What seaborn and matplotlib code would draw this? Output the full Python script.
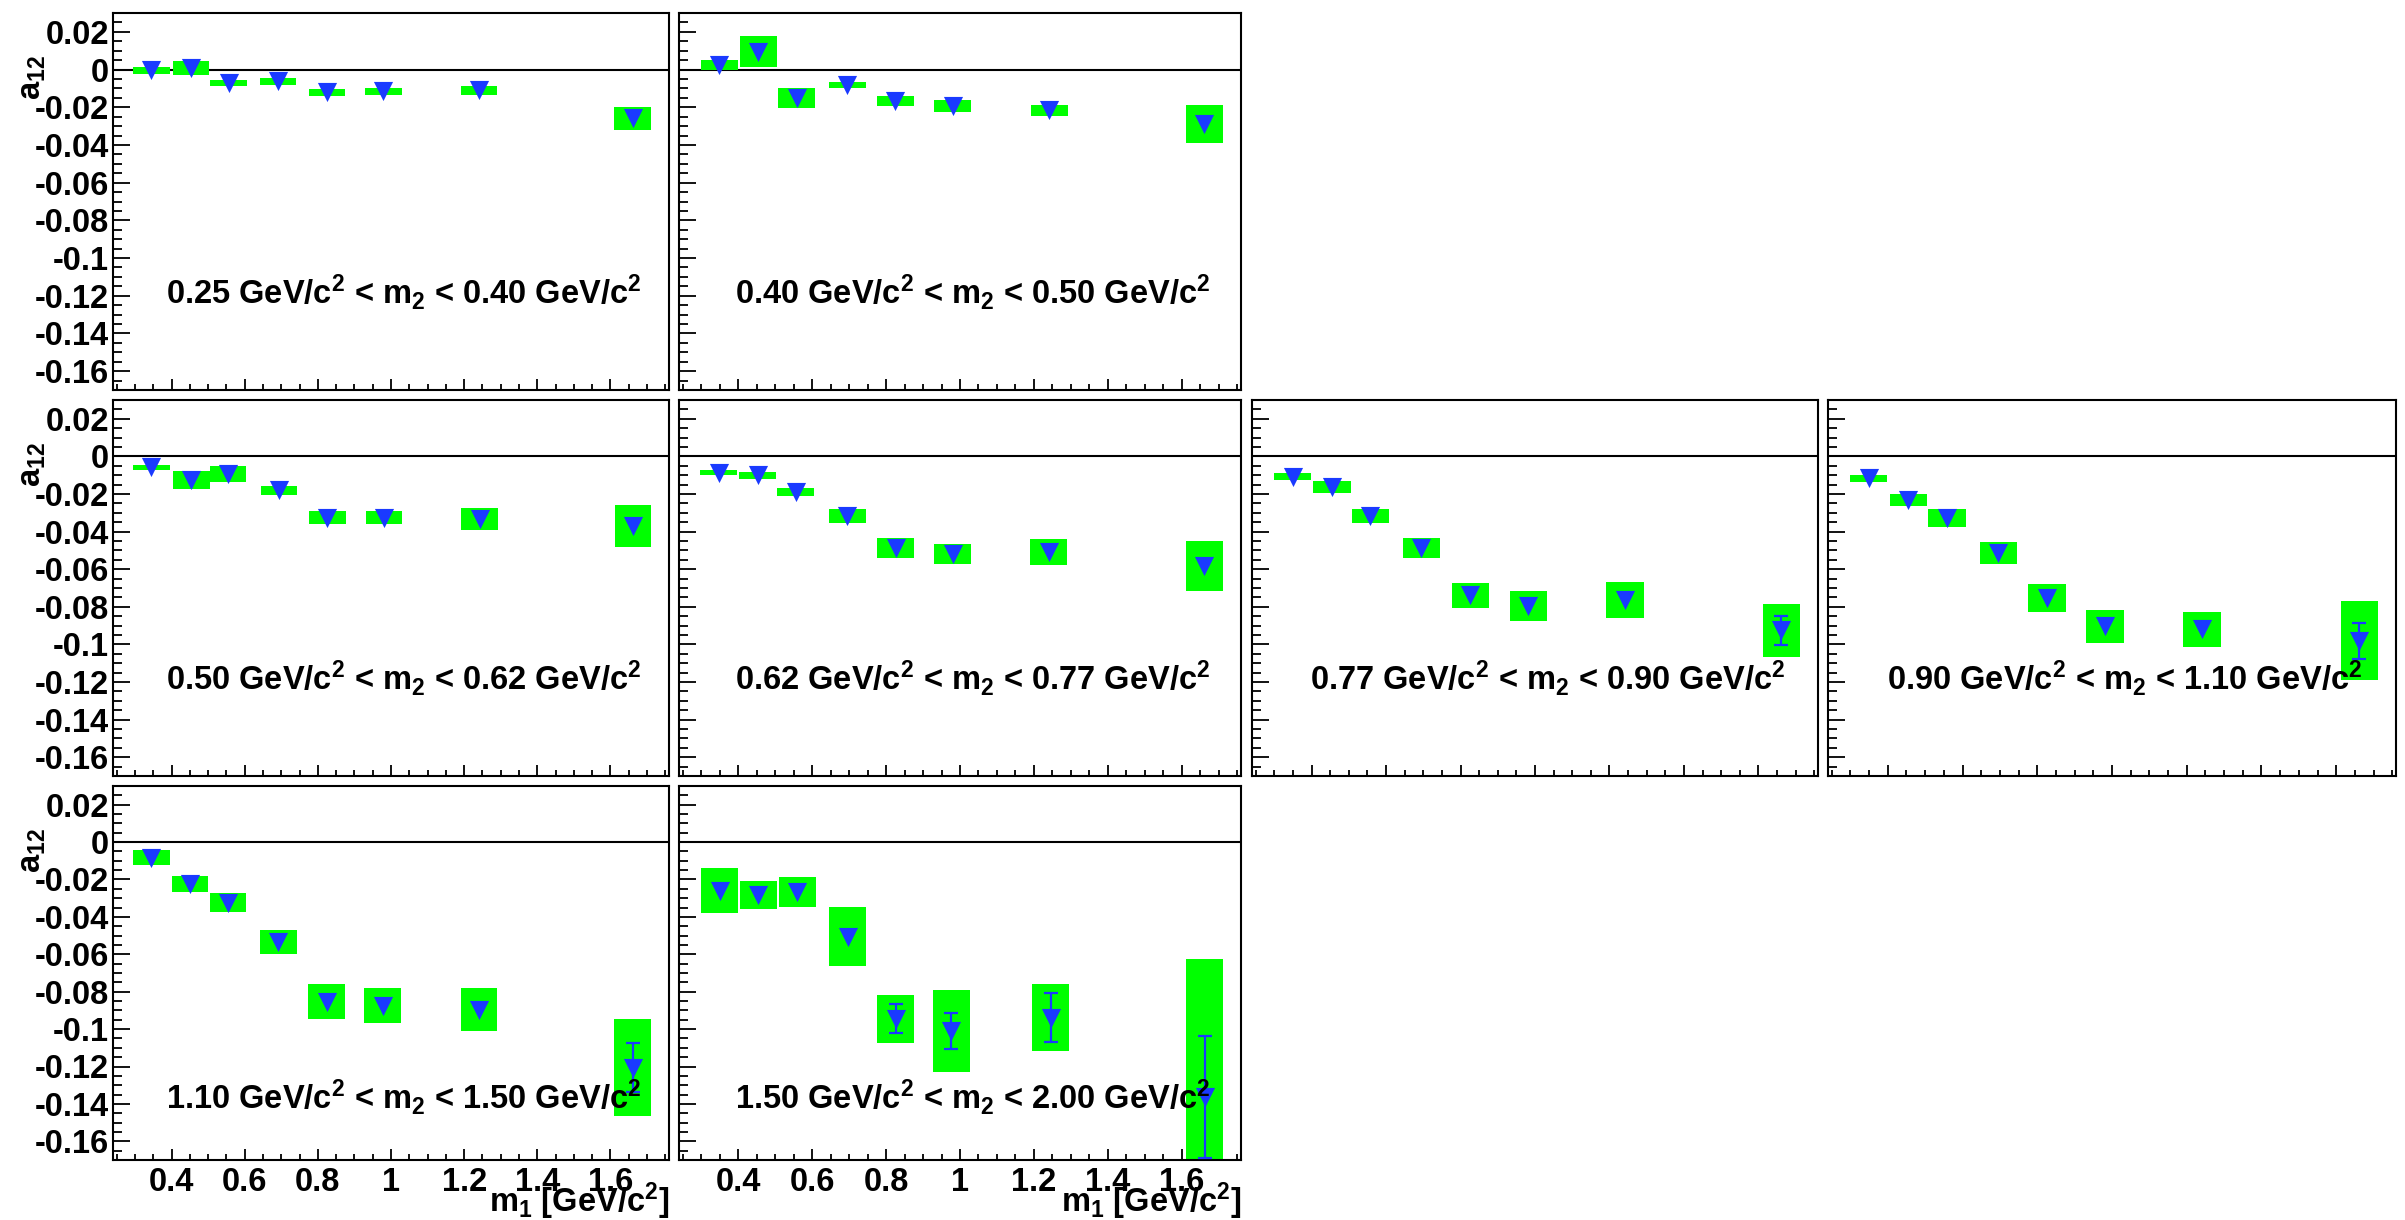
import matplotlib
matplotlib.use("Agg")
import matplotlib.pyplot as plt
import seaborn as sns
from matplotlib.ticker import FixedLocator, FixedFormatter, MultipleLocator, NullFormatter

# ---------------- data ----------------
panel_labels = [
    "0.25 GeV/c$^{2}$ < m$_{2}$ < 0.40 GeV/c$^{2}$",
    "0.40 GeV/c$^{2}$ < m$_{2}$ < 0.50 GeV/c$^{2}$",
    "0.50 GeV/c$^{2}$ < m$_{2}$ < 0.62 GeV/c$^{2}$",
    "0.62 GeV/c$^{2}$ < m$_{2}$ < 0.77 GeV/c$^{2}$",
    "0.77 GeV/c$^{2}$ < m$_{2}$ < 0.90 GeV/c$^{2}$",
    "0.90 GeV/c$^{2}$ < m$_{2}$ < 1.10 GeV/c$^{2}$",
    "1.10 GeV/c$^{2}$ < m$_{2}$ < 1.50 GeV/c$^{2}$",
    "1.50 GeV/c$^{2}$ < m$_{2}$ < 2.00 GeV/c$^{2}$",
]

m1_p1 = [0.345, 0.453, 0.556, 0.691, 0.825, 0.979, 1.241, 1.661]
a12_p1 = [-0.0004, 0.0008, -0.0073, -0.0063, -0.0121, -0.0116, -0.0111, -0.0259]
sys_p1 = [0.0019, 0.0038, 0.0015, 0.0019, 0.0019, 0.0019, 0.0025, 0.0060]
stat_p1 = [0.0010, 0.0015, 0.0010, 0.0010, 0.0010, 0.0010, 0.0015, 0.0030]

m1_p2 = [0.349, 0.455, 0.558, 0.695, 0.825, 0.980, 1.241, 1.660]
a12_p2 = [0.0025, 0.0095, -0.0151, -0.0082, -0.0167, -0.0193, -0.0217, -0.0288]
sys_p2 = [0.0025, 0.0081, 0.0051, 0.0015, 0.0025, 0.0031, 0.0027, 0.0101]
stat_p2 = [0.0012, 0.0018, 0.0015, 0.0012, 0.0012, 0.0013, 0.0015, 0.0035]

m1_p3 = [0.345, 0.454, 0.554, 0.694, 0.826, 0.981, 1.242, 1.662]
a12_p3 = [-0.0058, -0.0128, -0.0094, -0.0180, -0.0326, -0.0326, -0.0334, -0.0369]
sys_p3 = [0.0013, 0.0048, 0.0044, 0.0023, 0.0036, 0.0036, 0.0060, 0.0111]
stat_p3 = [0.0012, 0.0015, 0.0015, 0.0013, 0.0015, 0.0015, 0.0020, 0.0040]

m1_p4 = [0.347, 0.453, 0.556, 0.695, 0.826, 0.980, 1.240, 1.661]
a12_p4 = [-0.0086, -0.0101, -0.0190, -0.0316, -0.0489, -0.0520, -0.0510, -0.0584]
sys_p4 = [0.0012, 0.0017, 0.0023, 0.0038, 0.0054, 0.0054, 0.0070, 0.0132]
stat_p4 = [0.0012, 0.0014, 0.0015, 0.0016, 0.0018, 0.0020, 0.0025, 0.0045]

m1_p5 = [0.349, 0.455, 0.558, 0.695, 0.826, 0.982, 1.242, 1.661]
a12_p5 = [-0.0107, -0.0165, -0.0316, -0.0489, -0.0738, -0.0796, -0.0762, -0.0925]
sys_p5 = [0.0017, 0.0032, 0.0038, 0.0054, 0.0067, 0.0078, 0.0096, 0.0141]
stat_p5 = [0.0014, 0.0016, 0.0018, 0.0020, 0.0024, 0.0028, 0.0035, 0.0077]

m1_p6 = [0.349, 0.455, 0.558, 0.696, 0.826, 0.981, 1.241, 1.662]
a12_p6 = [-0.0116, -0.0231, -0.0328, -0.0512, -0.0755, -0.0904, -0.0920, -0.0980]
sys_p6 = [0.0018, 0.0033, 0.0047, 0.0058, 0.0075, 0.0088, 0.0093, 0.0211]
stat_p6 = [0.0015, 0.0017, 0.0019, 0.0022, 0.0026, 0.0030, 0.0038, 0.0096]

m1_p7 = [0.345, 0.450, 0.554, 0.692, 0.824, 0.977, 1.241, 1.661]
a12_p7 = [-0.0083, -0.0223, -0.0323, -0.0534, -0.0854, -0.0875, -0.0896, -0.1207]
sys_p7 = [0.0042, 0.0042, 0.0051, 0.0063, 0.0094, 0.0094, 0.0114, 0.0259]
stat_p7 = [0.0016, 0.0018, 0.0020, 0.0024, 0.0030, 0.0034, 0.0042, 0.0130]

m1_p8 = [0.350, 0.455, 0.560, 0.697, 0.826, 0.977, 1.245, 1.662]
a12_p8 = [-0.0260, -0.0283, -0.0267, -0.0505, -0.0945, -0.1011, -0.0938, -0.1362]
sys_p8 = [0.0119, 0.0074, 0.0080, 0.0159, 0.0127, 0.0221, 0.0181, 0.0738]
stat_p8 = [0.0030, 0.0032, 0.0035, 0.0042, 0.0078, 0.0096, 0.0130, 0.0325]

x_tick_values = [0.4, 0.6, 0.8, 1.0, 1.2, 1.4, 1.6]
x_tick_labels = ["0.4", "0.6", "0.8", "1", "1.2", "1.4", "1.6"]
y_tick_values = [0.02, 0.0, -0.02, -0.04, -0.06, -0.08, -0.10, -0.12, -0.14, -0.16]
y_tick_labels = ["0.02", "0", "-0.02", "-0.04", "-0.06", "-0.08", "-0.1", "-0.12", "-0.14", "-0.16"]

x_title = "m$_{1}$ [GeV/c$^{2}$]"
y_title = "a$_{12}$"

# ---------------- style ----------------
sns.set_theme(style="ticks")
plt.rcParams.update({
    "font.family": ["Liberation Sans", "DejaVu Sans"],
    "font.weight": "bold",
    "mathtext.fontset": "custom",
    "mathtext.rm": "Liberation Sans:bold",
    "mathtext.it": "Liberation Sans:bold",
    "mathtext.bf": "Liberation Sans:bold",
    "mathtext.sf": "Liberation Sans:bold",
    "mathtext.default": "rm",
    "axes.unicode_minus": False,
})

GREEN = "#00ff00"
BLUE = "#1a3aff"
FS = 23.5
W, H = 2405, 1220

fig = plt.figure(figsize=(W / 100, H / 100), dpi=100)
fig.patch.set_facecolor("white")

cols_px = [(113, 669), (679, 1241), (1252, 1818), (1828, 2396)]
rows_px = [(13, 390), (400, 776), (786, 1160)]

panels = [
    (panel_labels[0], m1_p1, a12_p1, sys_p1, stat_p1, 0, 0),
    (panel_labels[1], m1_p2, a12_p2, sys_p2, stat_p2, 0, 1),
    (panel_labels[2], m1_p3, a12_p3, sys_p3, stat_p3, 1, 0),
    (panel_labels[3], m1_p4, a12_p4, sys_p4, stat_p4, 1, 1),
    (panel_labels[4], m1_p5, a12_p5, sys_p5, stat_p5, 1, 2),
    (panel_labels[5], m1_p6, a12_p6, sys_p6, stat_p6, 1, 3),
    (panel_labels[6], m1_p7, a12_p7, sys_p7, stat_p7, 2, 0),
    (panel_labels[7], m1_p8, a12_p8, sys_p8, stat_p8, 2, 1),
]

MARKER_HALF = 0.0052  # stat bars shorter than this stay hidden under the marker

for label, m1, a12, syst, stat, r, c in panels:
    x0, x1 = cols_px[c]
    y0, y1 = rows_px[r]
    ax = fig.add_axes([x0 / W, 1 - y1 / H, (x1 - x0) / W, (y1 - y0) / H])
    ax.set_facecolor("white")

    ax.axhline(0, color="black", lw=1.5, zorder=1)
    ax.bar(m1, [2 * s for s in syst], bottom=[a - s for a, s in zip(a12, syst)],
           width=0.1, color=GREEN, linewidth=0, zorder=2)

    vis = [i for i, s in enumerate(stat) if s > MARKER_HALF]
    if vis:
        ax.errorbar([m1[i] for i in vis], [a12[i] for i in vis],
                    yerr=[stat[i] for i in vis], fmt="none", ecolor=BLUE,
                    elinewidth=1.6, capsize=4.7, capthick=1.6, zorder=3)

    sns.scatterplot(x=m1, y=a12, marker="v", s=190, color=BLUE, linewidth=0,
                    ax=ax, zorder=4, legend=False)

    ax.set_xlim(0.24, 1.76)
    ax.set_ylim(-0.17, 0.03)

    for sp in ax.spines.values():
        sp.set_color("black")
        sp.set_linewidth(1.5)
        sp.set_visible(True)

    ax.xaxis.set_major_locator(FixedLocator(x_tick_values))
    ax.xaxis.set_minor_locator(MultipleLocator(0.05))
    ax.yaxis.set_major_locator(FixedLocator(y_tick_values))
    ax.yaxis.set_minor_locator(MultipleLocator(0.005))
    if r == 2:
        ax.xaxis.set_major_formatter(FixedFormatter(x_tick_labels))
    else:
        ax.xaxis.set_major_formatter(NullFormatter())
    if c == 0:
        ax.yaxis.set_major_formatter(FixedFormatter(y_tick_labels))
    else:
        ax.yaxis.set_major_formatter(NullFormatter())

    ax.tick_params(axis="both", which="both", direction="in", top=False, right=False,
                   color="black", width=1.3, labelsize=FS, labelcolor="black")
    ax.tick_params(axis="y", which="major", length=12.5, pad=3)
    ax.tick_params(axis="y", which="minor", length=6.5)
    ax.tick_params(axis="x", which="major", length=8, pad=5)
    ax.tick_params(axis="x", which="minor", length=4)
    ax.set_xlabel("")
    ax.set_ylabel("")

    ytxt = -0.1425 if r == 2 else -0.124
    ax.text(0.523, ytxt, label, transform=ax.get_yaxis_transform(), ha="center",
            va="baseline", fontsize=FS, fontweight="bold", color="black", zorder=6)

    if r == 2:
        ax.text(1.0, -(1212 - y1) / (y1 - y0), x_title, transform=ax.transAxes,
                ha="right", va="baseline", fontsize=FS, fontweight="bold", color="black")
    if c == 0:
        fig.text(33 / W, 1 - (y0 + 42) / H, y_title, rotation=90, ha="center", va="top",
                 fontsize=FS, fontweight="bold", color="black")

fig.savefig("out.png", dpi=100, facecolor="white")
